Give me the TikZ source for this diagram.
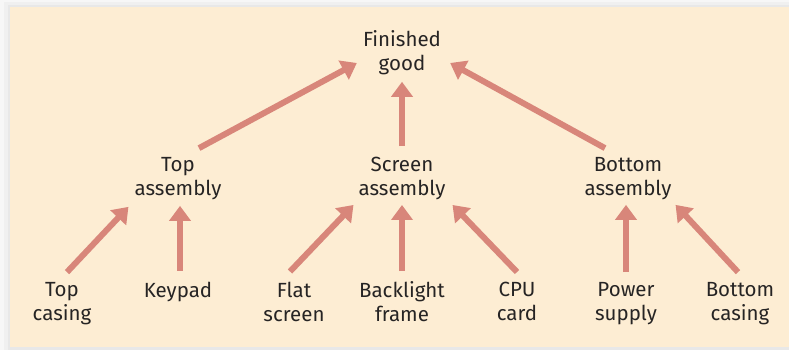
\documentclass[tikz,border=0pt]{standalone}
\usepackage{fontspec}
\setmainfont{Fira Sans}
\usetikzlibrary{arrows.meta}
\definecolor{panel}{RGB}{253,237,211}
\definecolor{arrowc}{RGB}{216,134,122}
\definecolor{ink}{RGB}{38,36,36}
\begin{document}
\begin{tikzpicture}[x=1pt, y=-1pt]
	\tikzstyle{every node} = [align=center, inner sep=0pt, text=ink, font=\fontsize{20.5}{24}\selectfont,
		execute at begin node=\strut, execute at end node=\strut]
	\tikzstyle{arr} = [draw=arrowc, line width=6pt, -{Triangle[length=15pt, width=21pt]}]
	\useasboundingbox (0,0) rectangle (789,350);
	\fill [black!3] (0,0) rectangle (789,350);
	\fill [black!6] (4,2) rectangle (789,350);
	\fill [black!9] (8,5) rectangle (789,350);
	\fill [panel] (10,7) rectangle (789,347);
	\node (fg) at (402,54) {Finished\\good};
	\node (ta) at (178,180) {Top\\assembly};
	\node (sa) at (402,180) {Screen\\assembly};
	\node (ba) at (628,180) {Bottom\\assembly};
	\node (tc) at (62,305) {Top\\casing};
	\node (kp) at (178,293) {Keypad};
	\node (fs) at (294,305) {Flat\\screen};
	\node (bf) at (402,305) {Backlight\\frame};
	\node (cc) at (517,305) {CPU\\card};
	\node (ps) at (626,305) {Power\\supply};
	\node (bc) at (740,305) {Bottom\\casing};
	\draw [arr] ([shift={(21,-9)}]ta.north) -- ([shift={(-6,9)}]fg.west);
	\draw [arr] ([shift={(0,-11)}]sa.north) -- ([shift={(0,4)}]fg.south);
	\draw [arr] ([shift={(-23,-9)}]ba.north) -- ([shift={(9,9)}]fg.east);
	\draw [arr] ([shift={(5,-10)}]tc.north) -- ([shift={(-6,4)}]ta.south west);
	\draw [arr] ([shift={(2,-10)}]kp.north) -- ([shift={(2,3)}]ta.south);
	\draw [arr] ([shift={(-4,-10)}]fs.north) -- ([shift={(-5,2)}]sa.south west);
	\draw [arr] ([shift={(0,-10)}]bf.north) -- ([shift={(0,2)}]sa.south);
	\draw [arr] ([shift={(0,-10)}]cc.north) -- ([shift={(7,2)}]sa.south east);
	\draw [arr] ([shift={(0,-10)}]ps.north) -- ([shift={(-2,2)}]ba.south);
	\draw [arr] ([shift={(-2,-10)}]bc.north) -- ([shift={(4,2)}]ba.south east);
\end{tikzpicture}
\end{document}
